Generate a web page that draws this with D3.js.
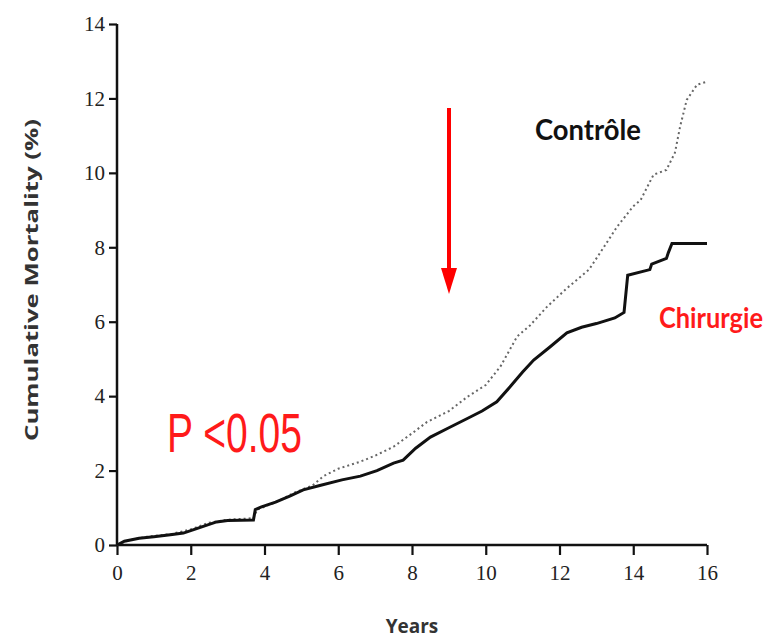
<!DOCTYPE html>
<html><head><meta charset="utf-8">
<script src="https://cdn.jsdelivr.net/npm/d3@7"></script>
<style>body{margin:0;background:#fff}svg{display:block}</style>
</head><body>
<script>
// ---- data ----
const xTicks = [0,2,4,6,8,10,12,14,16];
const yTicks = [0,2,4,6,8,10,12,14];
const chirTime = [0,0.2,0.6,1.0,1.5,1.8,2.1,2.4,2.7,3.0,3.7,3.75,3.9,4.3,4.7,5.05,5.5,6.1,6.6,7.05,7.5,7.76,8.1,8.5,9.0,9.5,9.9,10.3,10.66,11.0,11.3,11.74,12.2,12.6,13.0,13.5,13.75,13.85,14.45,14.5,14.9,14.95,15.05,16.0];
const chirValue = [0,0.1,0.18,0.22,0.28,0.32,0.42,0.52,0.62,0.66,0.67,0.95,1.02,1.15,1.32,1.48,1.6,1.75,1.85,2.0,2.2,2.28,2.6,2.9,3.15,3.4,3.6,3.85,4.25,4.65,4.97,5.32,5.7,5.85,5.95,6.1,6.25,7.25,7.4,7.55,7.7,7.85,8.1,8.1];
const ctrlTime = [0,0.3,0.8,1.5,2.0,2.5,3.0,3.7,3.8,4.3,4.8,5.3,5.6,6.0,6.6,7.0,7.5,8.0,8.4,9.0,9.5,10.0,10.4,10.85,11.2,11.66,12.2,12.8,13.2,13.56,14.0,14.2,14.55,14.9,15.13,15.27,15.45,15.73,16.0];
const ctrlValue = [0,0.12,0.22,0.3,0.42,0.6,0.68,0.72,0.95,1.15,1.4,1.6,1.85,2.05,2.24,2.4,2.64,3.0,3.3,3.6,3.98,4.3,4.8,5.6,5.9,6.4,6.9,7.4,8.0,8.55,9.1,9.27,9.95,10.08,10.54,11.24,11.96,12.37,12.45];

const W = 774, H = 639;
const svg = d3.select("body").append("svg").attr("width", W).attr("height", H);
const x = d3.scaleLinear().domain([0,16]).range([117,707]);
const y = d3.scaleLinear().domain([0,14]).range([545,24]);

const tickFont = "'Liberation Serif', serif";

// axes
const xAxis = svg.append("g").attr("transform", `translate(0,${y(0)})`)
  .call(d3.axisBottom(x).tickValues(xTicks).tickSize(10).tickPadding(10).tickFormat(d3.format("d")));
const yAxis = svg.append("g").attr("transform", `translate(${x(0)},0)`)
  .call(d3.axisLeft(y).tickValues(yTicks).tickSize(8).tickPadding(4).tickFormat(d3.format("d")));
[xAxis, yAxis].forEach(g => {
  g.select(".domain").attr("stroke", "#111").attr("stroke-width", 2.5);
  g.selectAll(".tick line").attr("stroke", "#111").attr("stroke-width", 2.2);
  g.selectAll(".tick text").attr("fill", "#222").attr("font-family", tickFont)
    .attr("font-size", 21);
});
xAxis.select(".domain").attr("d", `M${x(0)},0H${x(16)}`);
yAxis.select(".domain").attr("d", `M0,${y(0)}V${y(14)}`);

// lines
const ctrl = ctrlTime.map((t,i) => [t, ctrlValue[i]]);
const chir = chirTime.map((t,i) => [t, chirValue[i]]);
const line = d3.line().x(d => x(d[0])).y(d => y(d[1]));

svg.append("path").datum(ctrl).attr("d", line).attr("fill", "none")
  .attr("stroke", "#666").attr("stroke-width", 2).attr("stroke-dasharray", "2,3");
svg.append("path").datum(chir).attr("d", line).attr("fill", "none")
  .attr("stroke", "#111").attr("stroke-width", 3).attr("stroke-linejoin", "miter");

// axis titles
svg.append("text").attr("x", 412).attr("y", 633).attr("text-anchor", "middle")
  .attr("font-family", "'Open Sans', sans-serif").attr("font-weight", "bold")
  .attr("font-size", 19).attr("fill", "#333").text("Years");
svg.append("text").attr("transform", "translate(38,280) rotate(-90)").attr("text-anchor", "middle")
  .attr("font-family", "'Open Sans', sans-serif").attr("font-weight", "bold")
  .attr("font-size", 17).attr("fill", "#333")
  .attr("textLength", 322).attr("lengthAdjust", "spacingAndGlyphs")
  .text("Cumulative Mortality (%)");

// annotations
svg.append("text").attr("x", 535).attr("y", 140)
  .attr("font-family", "Lato, sans-serif").attr("font-weight", "bold")
  .attr("font-size", 29).attr("fill", "#111")
  .attr("textLength", 106).attr("lengthAdjust", "spacingAndGlyphs").text("Contrôle");
svg.append("text").attr("x", 659).attr("y", 328)
  .attr("font-family", "Lato, sans-serif").attr("font-weight", "bold")
  .attr("font-size", 28).attr("fill", "#ff1a1a")
  .attr("textLength", 104).attr("lengthAdjust", "spacingAndGlyphs").text("Chirurgie");
svg.append("text").attr("x", 167).attr("y", 452)
  .attr("font-family", "'Liberation Sans', Arial, sans-serif")
  .attr("font-size", 55).attr("fill", "#ff1a1a")
  .attr("textLength", 135).attr("lengthAdjust", "spacingAndGlyphs").text("P <0.05");

// arrow
svg.append("line").attr("x1", 449).attr("x2", 449).attr("y1", 108).attr("y2", 272)
  .attr("stroke", "#ff0000").attr("stroke-width", 4);
svg.append("path").attr("d", "M441,268L457,268L449,294Z").attr("fill", "#ff0000");
</script>
</body></html>
